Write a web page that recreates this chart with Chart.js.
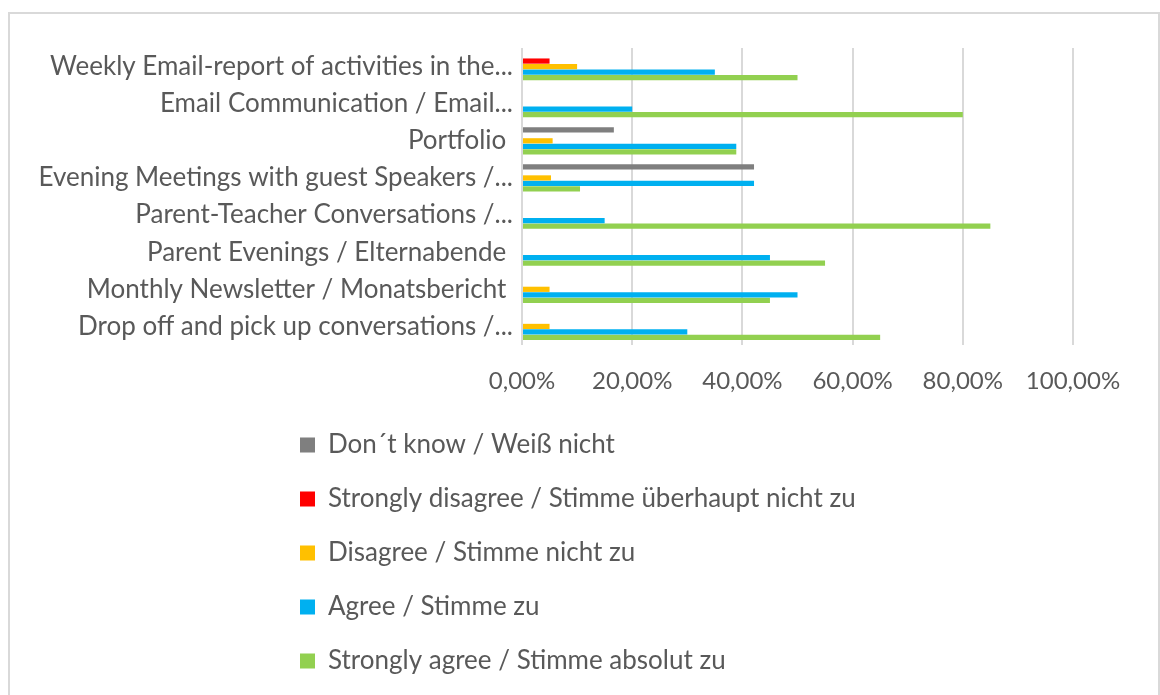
<!DOCTYPE html>
<html>
<head>
<meta charset="utf-8">
<script src="https://cdn.jsdelivr.net/npm/chart.js@4"></script>
<style>
  body { margin: 0; background: #fff; }
  #wrap { position: relative; width: 1160px; height: 695px; overflow: hidden; }
  #frame { position: absolute; left: 8px; top: 12px; width: 1152px; height: 700px; border: 2px solid #d9d9d9; box-sizing: border-box; pointer-events: none; }
  canvas { position: absolute; left: 0; top: 0; }
</style>
</head>
<body>
<div id="wrap">
  <canvas id="chart" width="1160" height="695"></canvas>
  <div id="frame"></div>
</div>
<script>
const categories = [
  'Weekly Email-report of activities in the...',
  'Email Communication / Email...',
  'Portfolio ',
  'Evening Meetings with guest Speakers /...',
  'Parent-Teacher Conversations /...',
  'Parent Evenings / Elternabende ',
  'Monthly Newsletter / Monatsbericht ',
  'Drop off and pick up conversations /...'
];
const seriesNames = [
  'Don´t know / Weiß nicht',
  'Strongly disagree / Stimme überhaupt nicht zu',
  'Disagree / Stimme nicht zu',
  'Agree / Stimme zu',
  'Strongly agree / Stimme absolut zu'
];
// percent values
const dontKnow         = [0, 0, 16.67, 42.11, 0, 0, 0, 0];
const stronglyDisagree = [5, 0, 0, 0, 0, 0, 0, 0];
const disagree         = [10, 0, 5.56, 5.26, 0, 0, 5, 5];
const agree            = [35, 20, 38.89, 42.11, 15, 45, 50, 30];
const stronglyAgree    = [50, 80, 38.89, 10.53, 85, 55, 45, 65];
const xTickLabels = ['0,00%', '20,00%', '40,00%', '60,00%', '80,00%', '100,00%'];

const colors = ['#7f7f7f', '#ff0000', '#ffc000', '#00b0f0', '#92d050'];
const series = [dontKnow, stronglyDisagree, disagree, agree, stronglyAgree];
const textColor = '#595959';
const fontFamily = 'Lato, "Open Sans", sans-serif';

// put the legend block in the middle of the frame, lines left aligned
const legendShift = {
  id: 'legendShift',
  afterLayout(chart) {
    const lg = chart.legend;
    if (!lg) return;
    const pad = lg.options.labels.padding;
    const block = Math.max(...lg.lineWidths) - pad;
    lg.left = Math.round((chart.width - block) / 2) - 2 - pad;
    lg.right = lg.left + block + 2 * pad;
    lg.width = lg.right - lg.left;
  }
};

new Chart(document.getElementById('chart'), {
  type: 'bar',
  data: {
    labels: categories,
    datasets: series.map((d, i) => ({
      label: seriesNames[i],
      data: d,
      backgroundColor: colors[i],
      borderWidth: 0,
      barPercentage: 0.95,
      categoryPercentage: 0.74
    }))
  },
  options: {
    indexAxis: 'y',
    responsive: false,
    animation: false,
    layout: { padding: { top: 48, right: 87, bottom: 11, left: 0 } },
    scales: {
      x: {
        min: 0,
        max: 100,
        ticks: {
          stepSize: 20,
          padding: 22,
          color: textColor,
          font: { family: fontFamily, size: 24 },
          callback: (v, i) => xTickLabels[i]
        },
        grid: { color: '#d9d9d9', lineWidth: 2, drawTicks: false },
        border: { display: false },
        afterFit: s => { s.height = 59; }
      },
      y: {
        ticks: {
          padding: 9,
          color: textColor,
          font: { family: fontFamily, size: 26 }
        },
        grid: { display: false, drawTicks: false },
        border: { display: false },
        afterFit: s => { s.width = 522; }
      }
    },
    plugins: {
      legend: {
        position: 'bottom',
        fullSize: false,
        align: 'start',
        labels: {
          boxWidth: 15,
          boxHeight: 15,
          padding: 28,
          color: textColor,
          font: { family: fontFamily, size: 26 }
        }
      },
      tooltip: { enabled: false }
    }
  },
  plugins: [legendShift]
});
</script>
</body>
</html>
